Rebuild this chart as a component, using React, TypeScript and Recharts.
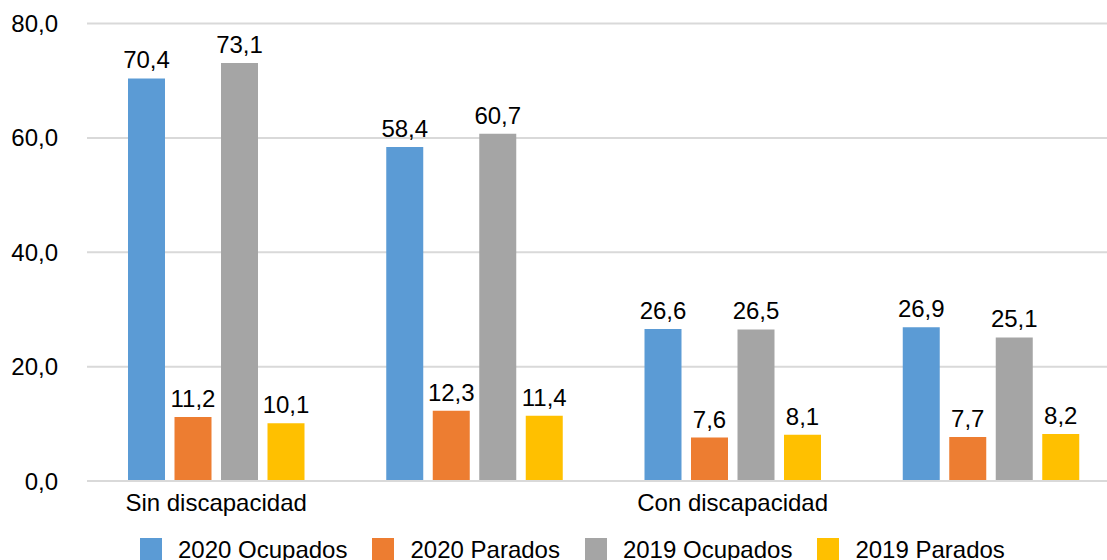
import React from 'react';
import { BarChart, Bar, XAxis, YAxis, CartesianGrid, Legend, LabelList } from 'recharts';

// groups (only 1st and 3rd carry a label in the original)
const groupIds = ['g1', 'g2', 'g3', 'g4'];
const groupLabels = ['Sin discapacidad', '', 'Con discapacidad', ''];

const ocupados2020 = [70.4, 58.4, 26.6, 26.9];
const parados2020 = [11.2, 12.3, 7.6, 7.7];
const ocupados2019 = [73.1, 60.7, 26.5, 25.1];
const parados2019 = [10.1, 11.4, 8.1, 8.2];

const yTicks = [0, 20, 40, 60, 80];

const SERIES = [
  { key: 'o2020', name: '2020 Ocupados', color: '#5B9BD5' },
  { key: 'p2020', name: '2020 Parados', color: '#ED7D31' },
  { key: 'o2019', name: '2019 Ocupados', color: '#A5A5A5' },
  { key: 'p2019', name: '2019 Parados', color: '#FFC000' },
];

const FONT = '"Liberation Sans", Arial, sans-serif';

const data = groupIds.map((id, i) => ({
  id,
  o2020: ocupados2020[i],
  p2020: parados2020[i],
  o2019: ocupados2019[i],
  p2019: parados2019[i],
}));

const fmt = (v: any) => Number(v).toFixed(1).replace('.', ',');

// legend keeps the series order (recharts payload order can differ)
const LegendContent = () => (
  <div style={{ height: 60, boxSizing: 'border-box', paddingTop: 16, paddingLeft: 140, display: 'flex', alignItems: 'flex-start' }}>
    {SERIES.map((s) => (
      <div key={s.key} style={{ display: 'flex', alignItems: 'flex-start', marginRight: 25 }}>
        <div style={{ width: 22, height: 22, background: s.color, marginRight: 16 }} />
        <span style={{ fontSize: 24, lineHeight: '24px', color: '#000', fontFamily: FONT, whiteSpace: 'nowrap' }}>{s.name}</span>
      </div>
    ))}
  </div>
);

export default function App() {
  return (
    <div style={{ position: 'absolute', left: 0, top: 0, width: 1107, height: 560, overflow: 'hidden', background: '#fff', fontFamily: FONT }}>
      <BarChart
        width={1120}
        height={582}
        data={data}
        margin={{ top: 23.5, right: 0, left: 0, bottom: 0 }}
        barSize={37}
        barGap={9.5}
      >
        <CartesianGrid vertical={false} stroke="#D9D9D9" strokeWidth={2} />
        <XAxis
          dataKey="id"
          height={41}
          interval={0}
          tickLine={false}
          tickSize={0}
          tickMargin={13}
          axisLine={{ stroke: '#D9D9D9', strokeWidth: 2 }}
          tickFormatter={(v: string) => groupLabels[groupIds.indexOf(v)]}
          tick={{ fontSize: 24, fill: '#000', fontFamily: FONT }}
        />
        <YAxis
          width={87}
          domain={[0, 80]}
          ticks={yTicks}
          axisLine={false}
          tickLine={false}
          tickSize={0}
          tickMargin={29}
          tickFormatter={fmt}
          tick={{ fontSize: 24, fill: '#000', fontFamily: FONT }}
        />
        <Legend verticalAlign="bottom" align="left" content={LegendContent} />
        {SERIES.map((s) => (
          <Bar key={s.key} dataKey={s.key} name={s.name} fill={s.color} isAnimationActive={false}>
            <LabelList dataKey={s.key} position="top" offset={10} formatter={fmt} style={{ fontSize: 24, fill: '#000', fontFamily: FONT }} />
          </Bar>
        ))}
      </BarChart>
    </div>
  );
}
